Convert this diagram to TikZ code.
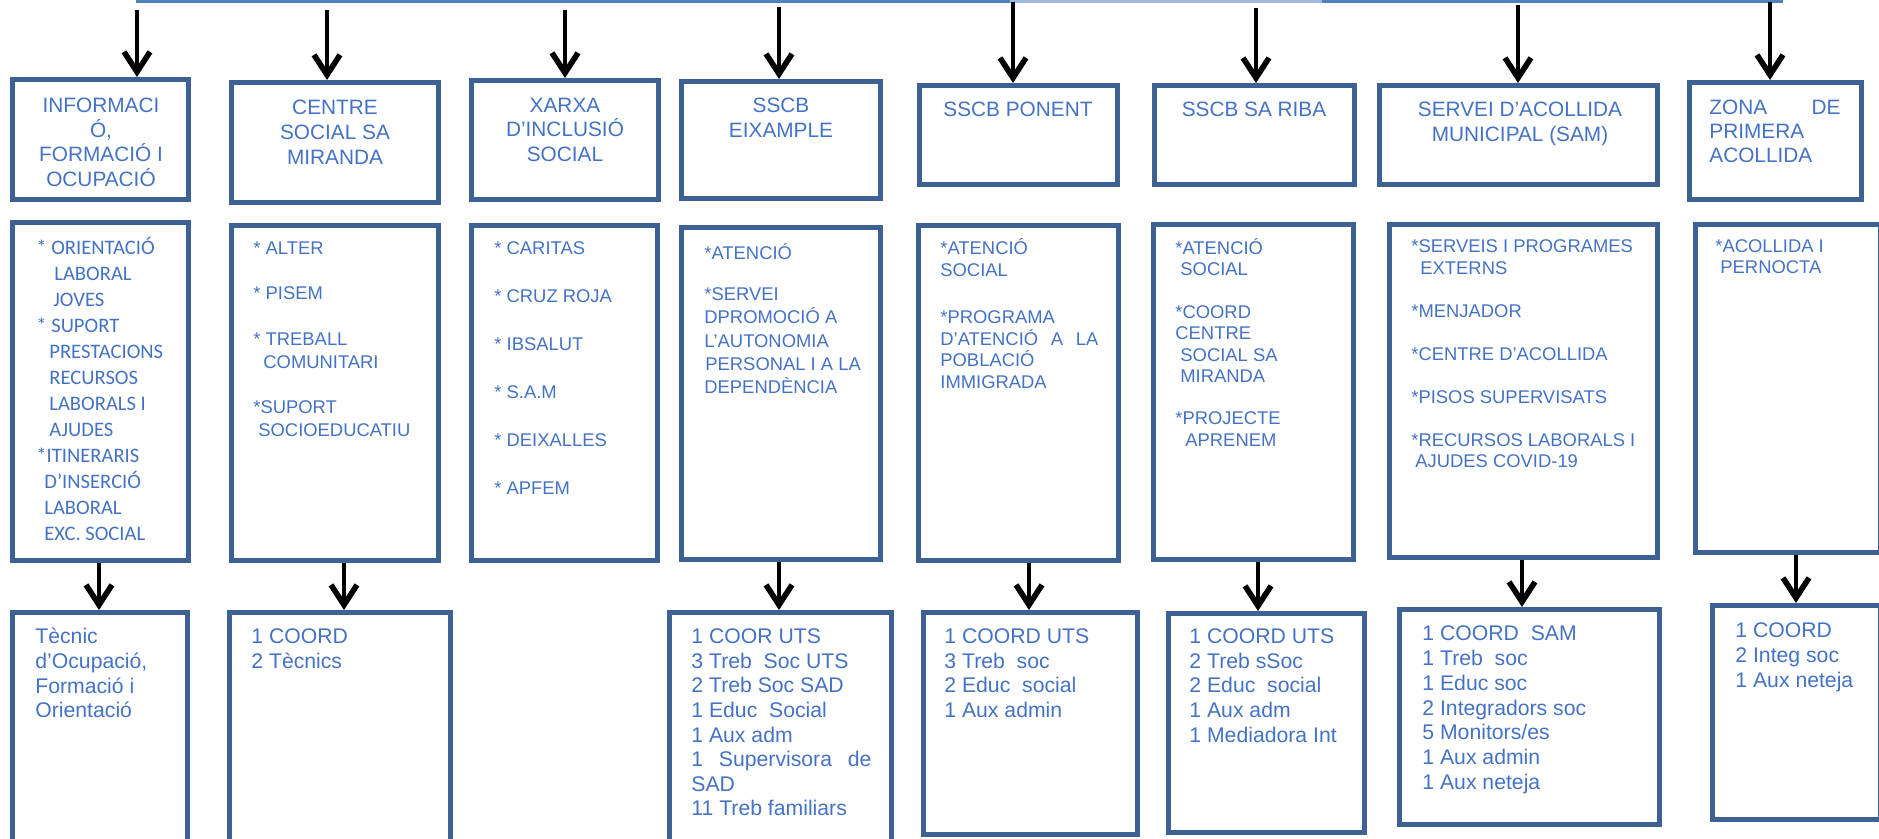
\documentclass[tikz,border=0pt]{standalone}
\usepackage{fontspec}
\setmainfont{Liberation Sans}
\newfontfamily\calibfont{Carlito}
\usetikzlibrary{arrows.meta,fit,calc}
\definecolor{boxcol}{RGB}{60,97,146}
\definecolor{txtcol}{RGB}{68,114,196}
\definecolor{linecol}{RGB}{79,129,189}
\definecolor{linelight}{RGB}{160,186,222}
\newcommand\txtlines[6]{%
  \foreach \lintext [count=\k] in {#6}{%
    \node[anchor=base west, #1] (#2-\k) at (#3, {#4+(\k-1)*(#5)}) {\lintext};
  }%
}
\tikzset{
  box/.style={draw=boxcol, line width=2.5pt, inner sep=0pt},
  hd/.style={text=txtcol, inner sep=0pt, font=\fontsize{10.4pt}{12pt}\selectfont, anchor=base},
  hdl/.style={text=txtcol, inner sep=0pt, font=\fontsize{10.4pt}{12pt}\selectfont},
  bl/.style={text=txtcol, inner sep=0pt, font=\fontsize{9.2pt}{11pt}\selectfont},
  cb/.style={text=txtcol, inner sep=0pt, font=\calibfont\fontsize{10.3pt}{12pt}\selectfont},
  st/.style={text=txtcol, inner sep=0pt, font=\fontsize{10.6pt}{12pt}\selectfont},
  arr/.style={draw=black, line width=2.3pt, -{Straight Barb[length=10pt,width=13pt,line width=2.8pt]}},
}
\begin{document}
\begin{tikzpicture}[x=0.5pt,y=-0.5pt]
\useasboundingbox (0,0) rectangle (1879,839);
\begin{scope}
\clip (0,0) rectangle (1879,839);
% top line
\draw[linecol, line width=1.5pt] (136,1.5) -- (1010,1.5);
\draw[linelight, line width=1.5pt] (1010,1.5) -- (1322,1.5);
\draw[linecol, line width=1.5pt] (1322,1.5) -- (1783,1.5);

% row 1 boxes
\node[box, fit={(12.5,79.5) (188.5,199.5)}] (r1a) {};
\node[box, fit={(231.5,82.5) (438.5,202.5)}] (r1b) {};
\node[box, fit={(471.5,80.5) (658.5,199.5)}] (r1c) {};
\node[box, fit={(681.5,81.5) (880.5,198.5)}] (r1d) {};
\node[box, fit={(919.5,85.5) (1117.5,184.5)}] (r1e) {};
\node[box, fit={(1154.5,85.5) (1354.5,184.5)}] (r1f) {};
\node[box, fit={(1379.5,85.5) (1657.5,184.5)}] (r1g) {};
\node[box, fit={(1689.5,82.5) (1861.5,199.5)}] (r1h) {};

% row 2 boxes
\node[box, fit={(12.5,222.5) (188.5,560.5)}] (r2a) {};
\node[box, fit={(231.5,225.5) (438.5,560.5)}] (r2b) {};
\node[box, fit={(471.5,225.5) (657.5,560.5)}] (r2c) {};
\node[box, fit={(681.5,227.5) (880.5,559.5)}] (r2d) {};
\node[box, fit={(918.5,225.5) (1118.5,560.5)}] (r2e) {};
\node[box, fit={(1153.5,224.5) (1353.5,559.5)}] (r2f) {};
\node[box, fit={(1389.5,224.5) (1657.5,557.5)}] (r2g) {};
\node[box, fit={(1695.5,224.5) (1880,552.5)}] (r2h) {};

% row 3 boxes
\node[box, fit={(12.5,612.5) (187.5,846)}] (r3a) {};
\node[box, fit={(229.5,612.5) (450.5,846)}] (r3b) {};
\node[box, fit={(669.5,612.5) (891.5,846)}] (r3d) {};
\node[box, fit={(923.5,612.5) (1137.5,834.5)}] (r3e) {};
\node[box, fit={(1168.5,613.5) (1364.5,832.5)}] (r3f) {};
\node[box, fit={(1399.5,609.5) (1659.5,824.5)}] (r3g) {};
\node[box, fit={(1712.5,605.5) (1880,819.5)}] (r3h) {};

% top arrows
\coordinate (t1) at (137,10);
\coordinate (t2) at (327,10);
\coordinate (t3) at (565,10);
\coordinate (t4) at (779,7);
\coordinate (t5) at (1013,2);
\coordinate (t6) at (1256,8);
\coordinate (t7) at (1518,5);
\coordinate (t8) at (1770,2);
\draw[arr] (t1) -- (t1 |- r1a.north);
\draw[arr] (t2) -- (t2 |- r1b.north);
\draw[arr] (t3) -- (t3 |- r1c.north);
\draw[arr] (t4) -- (t4 |- r1d.north);
\draw[arr] (t5) -- (t5 |- r1e.north);
\draw[arr] (t6) -- (t6 |- r1f.north);
\draw[arr] (t7) -- (t7 |- r1g.north);
\draw[arr] (t8) -- (t8 |- r1h.north);

% middle arrows
\coordinate (m1) at (99,0);
\coordinate (m2) at (344,0);
\coordinate (m4) at (779,0);
\coordinate (m5) at (1029,0);
\coordinate (m6) at (1258,0);
\coordinate (m7) at (1522,0);
\coordinate (m8) at (1796,0);
\draw[arr] (m1 |- r2a.south) -- (m1 |- r3a.north);
\draw[arr] (m2 |- r2b.south) -- (m2 |- r3b.north);
\draw[arr] (m4 |- r2d.south) -- (m4 |- r3d.north);
\draw[arr] (m5 |- r2e.south) -- (m5 |- r3e.north);
\draw[arr] (m6 |- r2f.south) -- (m6 |- r3f.north);
\draw[arr] (m7 |- r2g.south) -- (m7 |- r3g.north);
\draw[arr] (m8 |- r2h.south) -- (m8 |- r3h.north);

% row 1 texts
\txtlines{hd}{h1a}{101}{112.5}{24.7}{INFORMACI,{Ó,},FORMACIÓ I,OCUPACIÓ}
\txtlines{hd}{h1b}{335}{114.5}{25}{CENTRE,SOCIAL SA,MIRANDA}
\txtlines{hd}{h1c}{565}{112.5}{24.5}{XARXA,D’INCLUSIÓ,SOCIAL}
\txtlines{hd}{h1d}{781}{112.5}{25}{SSCB,EIXAMPLE}
\txtlines{hd}{h1e}{1018}{116.5}{25}{SSCB PONENT}
\txtlines{hd}{h1f}{1254}{116.5}{25}{SSCB SA RIBA}
\txtlines{hd}{h1g}{1520}{117}{25}{SERVEI D’ACOLLIDA,MUNICIPAL (SAM)}
\txtlines{hdl}{h1h}{1709}{114.5}{24}{{\makebox[65.5pt][s]{ZONA DE}},PRIMERA,ACOLLIDA}

% row 2 texts
\txtlines{cb}{s2a}{36}{254.6}{26}{* ORIENTACIÓ,{\hspace*{9pt}LABORAL},{\hspace*{8.5pt}JOVES},* SUPORT,{\hspace*{6.5pt}PRESTACIONS},{\hspace*{6.5pt}RECURSOS},{\hspace*{6.5pt}LABORALS I},{\hspace*{6.5pt}AJUDES},*ITINERARIS,{\hspace*{4pt}D’INSERCIÓ},{\hspace*{4pt}LABORAL},{\hspace*{4pt}EXC. SOCIAL}}
\txtlines{bl}{s2b}{253}{254.6}{22.7}{* ALTER,{},* PISEM,{},* TREBALL,{\hspace*{5pt}COMUNITARI},{},*SUPORT,{\hspace*{2.5pt}SOCIOEDUCATIU}}
\txtlines{bl}{s2c}{494}{254.6}{48}{* CARITAS,* CRUZ ROJA,* IBSALUT,* S.A.M,* DEIXALLES,* APFEM}
\txtlines{bl}{s2d}{704}{259.6}{23.3}{*ATENCIÓ}
\txtlines{bl}{s2dd}{704}{300.6}{23.3}{*SERVEI,DPROMOCIÓ A,L’AUTONOMIA,{\hspace*{0.5pt}PERSONAL I A LA},DEPENDÈNCIA}
\txtlines{bl}{s2e}{940}{254.6}{21.5}{*ATENCIÓ,SOCIAL}
\txtlines{bl}{s2ee}{940}{323.6}{21.7}{*PROGRAMA,{\makebox[79pt][s]{D’ATENCIÓ A LA}},POBLACIÓ,IMMIGRADA}
\txtlines{bl}{s2f}{1175}{254.6}{21.3}{*ATENCIÓ,{\hspace*{2.5pt}SOCIAL},{},*COORD,CENTRE,{\hspace*{2.5pt}SOCIAL SA},{\hspace*{2.5pt}MIRANDA},{},*PROJECTE,{\hspace*{5pt}APRENEM}}
\txtlines{bl}{s2g}{1411}{252.6}{21.5}{*SERVEIS I PROGRAMES,{\hspace*{4.5pt}EXTERNS},{},*MENJADOR,{},*CENTRE D’ACOLLIDA,{},*PISOS SUPERVISATS,{},*RECURSOS LABORALS I,{\hspace*{2pt}AJUDES COVID-19}}
\txtlines{bl}{s2h}{1715}{252.6}{21}{*ACOLLIDA I,{\hspace*{2.5pt}PERNOCTA}}

% row 3 texts
\txtlines{st}{p3a}{35}{643.6}{24.7}{Tècnic,{d’Ocupació,},Formació i,Orientació}
\txtlines{st}{p3b}{251}{643.6}{24.7}{1 COORD,2 Tècnics}
\txtlines{st}{p3d}{691}{643.6}{24.6}{1 COOR UTS,3 Treb\ \ Soc UTS,2 Treb Soc SAD,1 Educ\ \ Social,1 Aux adm,{\makebox[90pt][s]{1 Supervisora de}},SAD,11 Treb familiars}
\txtlines{st}{p3e}{944}{643.6}{24.6}{1 COORD UTS,3 Treb\ \ soc,2 Educ\ \ social,1 Aux admin}
\txtlines{st}{p3f}{1189}{643.6}{24.6}{1 COORD UTS,2 Treb sSoc,2 Educ\ \ social,1 Aux adm,1 Mediadora Int}
\txtlines{st}{p3g}{1422}{640.6}{24.8}{1 COORD\ \ SAM,1 Treb\ \ soc,1 Educ soc,2 Integradors soc,5 Monitors/es,1 Aux admin,1 Aux neteja}
\txtlines{st}{p3h}{1735}{637.6}{25}{1 COORD,2 Integ soc,1 Aux neteja}
\end{scope}
\end{tikzpicture}
\end{document}
